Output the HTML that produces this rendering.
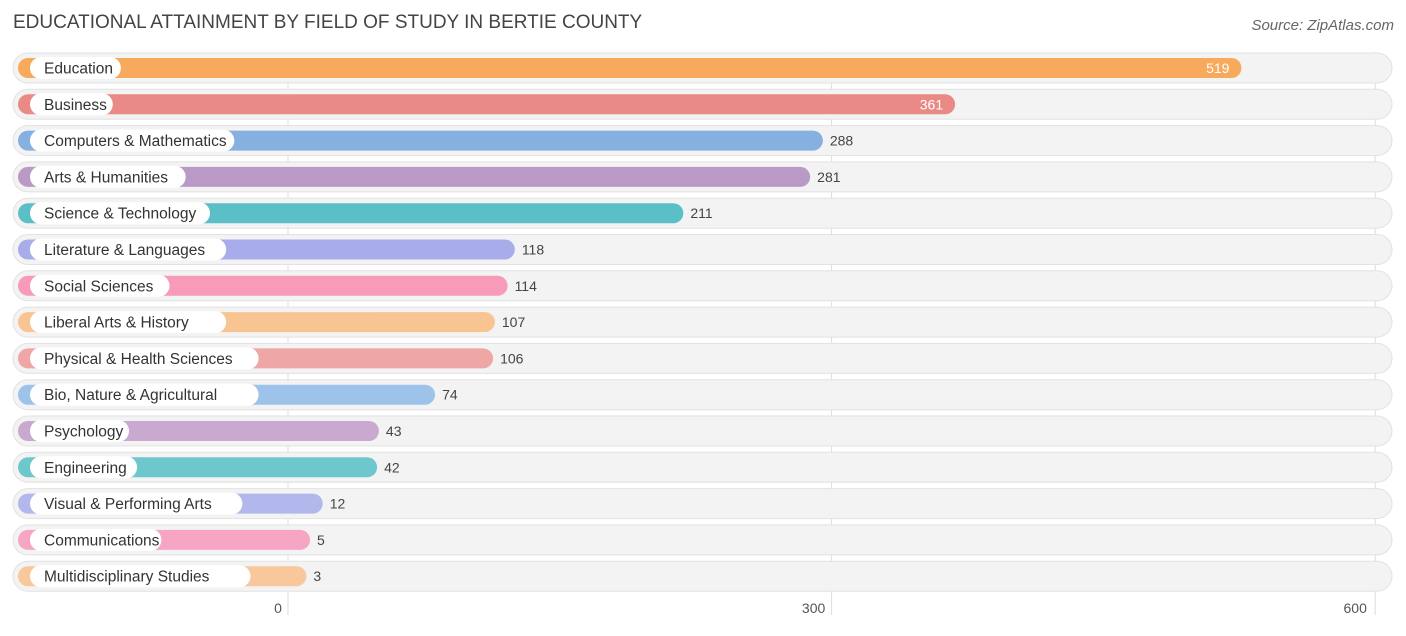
<!DOCTYPE html>
<html><head><meta charset="utf-8"><style>
body{margin:0;background:#fff;font-family:"Liberation Sans",sans-serif;}
</style></head><body>
<svg id="c" width="1406" height="631" xmlns="http://www.w3.org/2000/svg">
<text x="13" y="28" font-size="19" fill="#444">EDUCATIONAL ATTAINMENT BY FIELD OF STUDY IN BERTIE COUNTY</text>
<text x="1394" y="30" font-size="15" fill="#666" font-style="italic" text-anchor="end">Source: ZipAtlas.com</text>
<g id="grid"></g><g id="rows"></g>
</svg>
<script>
const categories=["Education","Business","Computers & Mathematics","Arts & Humanities","Science & Technology","Literature & Languages","Social Sciences","Liberal Arts & History","Physical & Health Sciences","Bio, Nature & Agricultural","Psychology","Engineering","Visual & Performing Arts","Communications","Multidisciplinary Studies"];
const values=[519,361,288,281,211,118,114,107,106,74,43,42,12,5,3];
const colors=["#f7a95c","#ea8a86","#86b0e0","#b99ac6","#5bbfc8","#a9acea","#f79bb9","#f8c592","#eea7a4","#9ec3ea","#c9a9d0","#6ec7cc","#b2b8ec","#f6a6c4","#f8c79c"];
const ticks=[0,300,600];
const NS="http://www.w3.org/2000/svg";
const x=v=>301+v*1.812;
const y=i=>68+i*36.3;
function mk(t,a,p){const e=document.createElementNS(NS,t);for(const k in a)e.setAttribute(k,a[k]);p.appendChild(e);return e;}
const grid=document.getElementById('grid'),rows=document.getElementById('rows');
ticks.forEach(t=>{
 const gx=x(t)-13;
 const l=mk('line',{x1:gx,x2:gx,y1:52,y2:615,stroke:'#ddd','stroke-width':1},grid);
 
 
 const tx=mk('text',{x:gx-(t==600?20:(t==0?10:18)),y:613,'font-size':14,fill:'#555','text-anchor':'middle'},grid);
 tx.textContent=t;
 
 
});
categories.forEach((c,i)=>{
 const cy=y(i);
 const g=mk('g',{},rows);
 
 
 const tr=mk('rect',{x:13,y:cy-15,width:1379,height:30,rx:15,fill:'#f3f3f3',stroke:'#e2e2e2'},g);
 
 
 const b=mk('rect',{x:18,y:cy-10,width:x(values[i])-18,height:20,rx:10,fill:colors[i]},g);
 
 
 const lw=c.length*8.1+18;
 const p=mk('rect',{x:30,y:cy-11,width:lw,height:22,rx:11,fill:'#fff'},g);
 
 
 const lt=mk('text',{x:44,y:cy+5.5,'font-size':15.5,fill:'#333'},g);
 lt.textContent=c;
 
 
 const inside=values[i]>300;
 const vt=mk('text',{x:inside?x(values[i])-12:x(values[i])+7,y:cy+5,'font-size':14,fill:inside?'#fff':'#444','text-anchor':inside?'end':'start'},g);
 vt.textContent=values[i];
 
 
});
</script>
</body></html>
